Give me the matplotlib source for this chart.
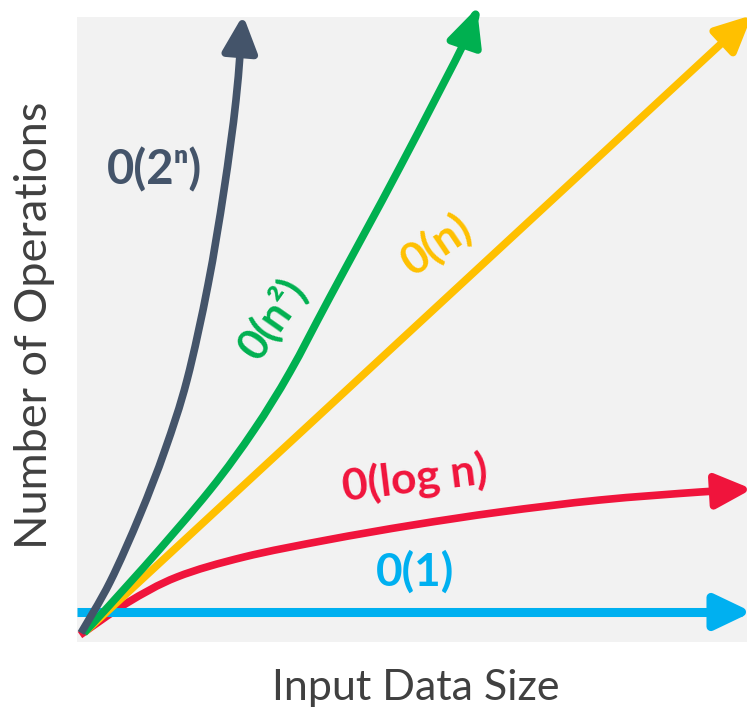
import numpy as np
import matplotlib
matplotlib.use("Agg")
import matplotlib.pyplot as plt
from matplotlib.patches import FancyArrowPatch
from matplotlib.path import Path

# ---- data (conceptual curves) ----
exp_x = [0.60, 4.93, 9.40, 13.13, 16.42, 19.55, 21.94, 23.73, 24.78]
exp_y = [1.44, 9.60, 20.32, 30.72, 41.92, 57.12, 72.32, 86.72, 100.32]

quad_x = [1.04, 10.0, 19.85, 26.42, 31.79, 37.76, 48.21, 58.21, 59.70]
quad_y = [1.44, 12.0, 24.32, 33.92, 43.2, 55.2, 76.0, 96.8, 101.44]

lin_x = [1.19, 100.75]
lin_y = [1.60, 100.3]

log_x = [0.45, 7.46, 14.93, 24.93, 37.31, 50.15, 63.13, 78.06, 92.99, 100.75]
log_y = [1.12, 6.24, 10.4, 13.6, 16.32, 18.72, 20.8, 22.72, 24.0, 24.48]

const_x = [0.0, 100.75]
const_y = [4.8, 4.8]

labels = ["0(2\u207f)", "0(n\u00b2)", "0(n)", "0(log n)", "0(1)"]
label_x = [11.64, 29.1, 53.7, 50.4, 50.4]
label_y = [75.5, 51.8, 63.5, 26.0, 11.2]
label_rot = [0, 55, 34, 7, 0]
label_size = [34, 31, 32, 32, 33]

x_title = "Input Data Size"
y_title = "Number of Operations"

# ---- styles ----
C_EXP = "#44546A"
C_QUAD = "#00B050"
C_LIN = "#FFC000"
C_LOG = "#F0143C"
C_CONST = "#00B0F0"
BG = "#F2F2F2"
TXT = "#404040"

fig = plt.figure(figsize=(7.47, 7.13), dpi=100)
ax = fig.add_axes([77/747, 71/713, 670/747, 625/713])
ax.set_facecolor(BG)
ax.set_xlim(0, 100)
ax.set_ylim(0, 100)
ax.set_xticks([])
ax.set_yticks([])
for s in ax.spines.values():
    s.set_visible(False)


def smooth_path(xs, ys):
    """Catmull-Rom curve through the points, expressed as cubic Bezier path."""
    P = np.column_stack([xs, ys]).astype(float)
    n = len(P)
    if n < 3:
        return Path(P)
    ext = np.vstack([P[0], P, P[-1]])
    verts = [P[0]]
    codes = [Path.MOVETO]
    for i in range(n - 1):
        p0, p1, p2, p3 = ext[i], ext[i + 1], ext[i + 2], ext[i + 3]
        c1 = p1 + (p2 - p0) / 6.0
        c2 = p2 - (p3 - p1) / 6.0
        verts += [c1, c2, p2]
        codes += [Path.CURVE4] * 3
    return Path(np.array(verts), codes)


def arrow(xs, ys, color, lw, z):
    p = smooth_path(xs, ys)
    a = FancyArrowPatch(path=p, arrowstyle="-|>,head_length=2.2,head_width=1.05",
                        mutation_scale=10, color=color, lw=lw, zorder=z,
                        transform=ax.transData, clip_on=False,
                        capstyle="butt", joinstyle="round")
    ax.add_patch(a)


arrow(log_x, log_y, C_LOG, 5.5, 2)
arrow(const_x, const_y, C_CONST, 6.5, 3)
arrow(lin_x, lin_y, C_LIN, 5.5, 4)
arrow(quad_x, quad_y, C_QUAD, 5.5, 5)
arrow(exp_x, exp_y, C_EXP, 5.5, 6)

colors = [C_EXP, C_QUAD, C_LIN, C_LOG, C_CONST]
for t, x, y, r, s, c in zip(labels, label_x, label_y, label_rot, label_size, colors):
    ax.text(x, y, t, rotation=r, fontsize=s, color=c, fontweight="bold",
            family=["Lato", "DejaVu Sans"], ha="center", va="center",
            rotation_mode="anchor", zorder=10)

fig.text(416/747, 1 - 688/713, x_title, fontsize=31, color=TXT,
         family=["Lato", "DejaVu Sans"], ha="center", va="center")
fig.text(35/747, 1 - 325/713, y_title, fontsize=32.5, color=TXT, rotation=90,
         family=["Lato", "DejaVu Sans"], ha="center", va="center")

fig.savefig("out.png", dpi=100, facecolor="white")
